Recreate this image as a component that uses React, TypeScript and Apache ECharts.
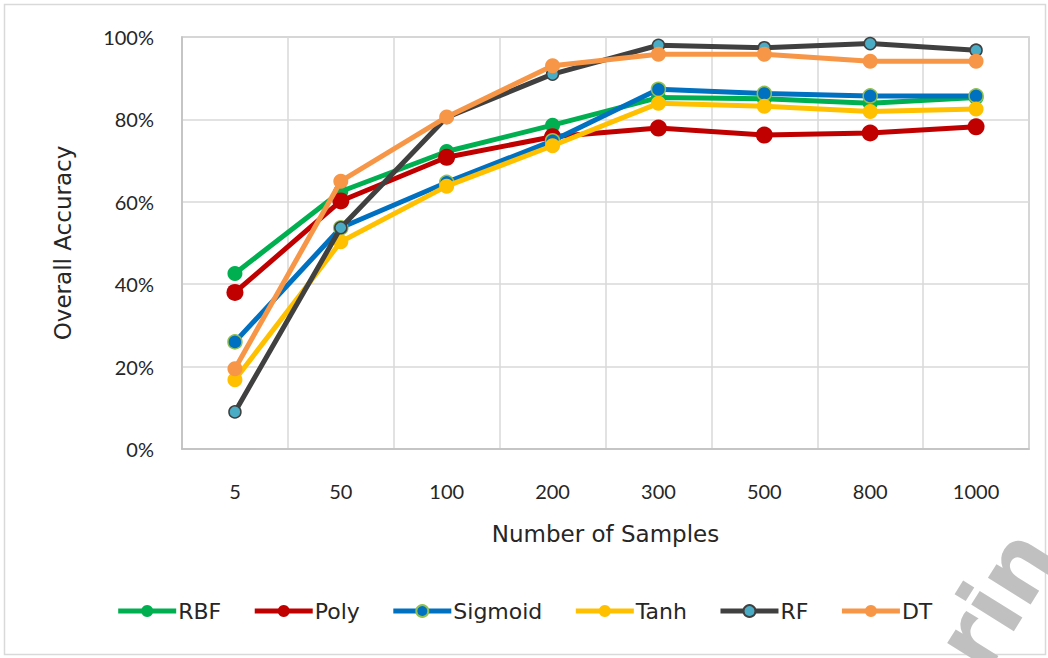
import React, { useEffect, useRef } from "react";
import * as echarts from "echarts";

const categories = ["5", "50", "100", "200", "300", "500", "800", "1000"];
const rbf = [42.6, 62.5, 72.2, 78.6, 85.3, 85.0, 83.9, 85.3];
const poly = [38.0, 60.2, 70.8, 75.8, 77.9, 76.2, 76.7, 78.2];
const sigmoid = [26.0, 53.7, 64.7, 74.8, 87.3, 86.3, 85.7, 85.7];
const tanh = [16.8, 50.3, 63.8, 73.6, 83.9, 83.2, 81.9, 82.5];
const rf = [9.0, 53.7, 80.5, 91.0, 98.0, 97.4, 98.4, 96.8];
const dt = [19.5, 65.0, 80.6, 93.0, 95.8, 95.8, 94.1, 94.1];
const yTicks = [0, 20, 40, 60, 80, 100];

const FONT = "Lato, 'Open Sans', sans-serif";
const WIDE = "'DejaVu Sans', sans-serif";

export default function App() {
  const ref = useRef<HTMLDivElement>(null);
  useEffect(() => {
    if (!ref.current) return;
    const chart = echarts.init(ref.current, undefined, { renderer: "svg" });
    const mk = (
      name: string,
      data: number[],
      color: string,
      symbolSize: number,
      fill: string,
      border: string,
      borderWidth: number,
      z: number
    ) => ({
      name,
      type: "line",
      data,
      z,
      symbol: "circle",
      symbolSize,
      lineStyle: { color, width: 5 },
      itemStyle: { color: fill, borderColor: border, borderWidth },
      emphasis: { disabled: true },
    });
    chart.setOption({
      animation: false,
      backgroundColor: "#ffffff",
      textStyle: { fontFamily: FONT },
      graphic: [
        {
          type: "rect",
          shape: { x: 4.5, y: 4.5, width: 1041, height: 650 },
          style: { fill: "none", stroke: "#D9D9D9", lineWidth: 1.5 },
          silent: true,
          z: -1,
        },
        {
          type: "text",
          x: 998,
          y: 684,
          rotation: (58 * Math.PI) / 180,
          style: {
            text: "rin",
            fill: "#C0C0C0",
            font: "bold 92px 'DejaVu Sans', sans-serif",
            verticalAlign: "bottom",
            align: "left",
          },
          silent: true,
        },
      ],
      grid: {
        left: 182,
        top: 37,
        right: 19,
        bottom: 209,
        show: true,
        borderColor: "#BFBFBF",
        borderWidth: 1.5,
      },
      legend: {
        bottom: 31,
        left: "center",
        itemWidth: 58,
        itemHeight: 15,
        itemGap: 31,
        lineStyle: { width: 5 },
        textStyle: { fontSize: 22, color: "#262626", fontFamily: WIDE, padding: [0, 0, 0, -3] },
        data: ["RBF", "Poly", "Sigmoid", "Tanh", "RF", "DT"],
      },
      xAxis: {
        type: "category",
        data: categories,
        boundaryGap: true,
        name: "Number of Samples",
        nameLocation: "middle",
        nameGap: 73,
        nameTextStyle: { fontSize: 23, color: "#262626", fontFamily: WIDE },
        axisLine: { show: true, lineStyle: { color: "#BFBFBF", width: 1.5 } },
        axisTick: { show: false },
        axisLabel: { fontSize: 20, color: "#262626", margin: 32, fontFamily: FONT },
        splitLine: { show: true, lineStyle: { color: "#D9D9D9", width: 1.5 } },
      },
      yAxis: {
        type: "value",
        min: 0,
        max: 100,
        interval: 20,
        name: "Overall Accuracy",
        nameLocation: "middle",
        nameGap: 108,
        nameTextStyle: { fontSize: 23, color: "#262626", fontFamily: WIDE },
        axisLine: { show: true, lineStyle: { color: "#BFBFBF", width: 1.5 } },
        axisTick: { show: false },
        axisLabel: {
          fontSize: 20,
          color: "#262626",
          margin: 28,
          fontFamily: FONT,
          formatter: (v: number) => (yTicks.includes(v) ? v + "%" : ""),
        },
        splitLine: { show: true, lineStyle: { color: "#D9D9D9", width: 1.5 } },
      },
      series: [
        mk("RBF", rbf, "#00B050", 15, "#00B050", "#00B050", 0, 2),
        mk("Poly", poly, "#C00000", 17, "#C00000", "#C00000", 0, 3),
        mk("Sigmoid", sigmoid, "#0070C0", 14, "#0070C0", "#92C050", 1.5, 4),
        mk("Tanh", tanh, "#FFC000", 15, "#FFC000", "#FFC000", 0, 5),
        mk("RF", rf, "#404040", 12, "#4BACC6", "#404040", 1.5, 6),
        mk("DT", dt, "#F79646", 15, "#F79646", "#F79646", 0, 7),
      ],
    });
    return () => chart.dispose();
  }, []);
  return <div ref={ref} style={{ width: 1048, height: 658, position: "absolute", left: 0, top: 0 }} />;
}
